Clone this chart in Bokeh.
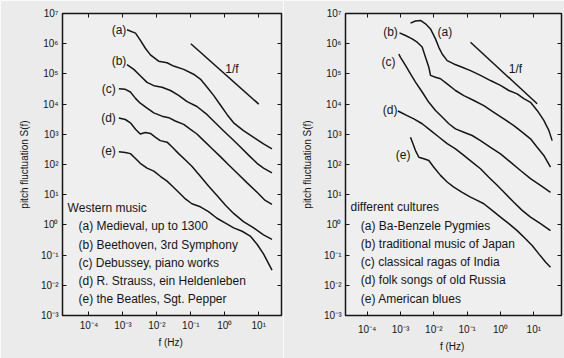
from bokeh.plotting import figure
from bokeh.layouts import row
from bokeh.models import Range1d, FixedTicker, LogAxis, CustomJSTickFormatter
from bokeh.core.properties import value
from bokeh.embed import file_html
from bokeh.resources import INLINE

# ---------------- data (log10 values) ----------------
X_TICK_EXP = [-4, -3, -2, -1, 0, 1]
Y_TICK_EXP = [-3, -2, -1, 0, 1, 2, 3, 4, 5, 6, 7]

# Left panel: Western music
W_a_logf = [-2.88, -2.63, -2.49, -2.34, -2.19, -1.95, -1.70, -1.51, -1.21, -0.92, -0.72, -0.52, -0.33, -0.13, 0.07, 0.26, 0.55, 0.85, 1.14, 1.39]
W_a_logS = [6.46, 6.35, 6.12, 5.85, 5.63, 5.42, 5.37, 5.26, 5.15, 4.99, 4.83, 4.56, 4.29, 3.97, 3.65, 3.38, 3.12, 2.90, 2.68, 2.52]
W_b_logf = [-2.88, -2.68, -2.49, -2.29, -2.09, -1.85, -1.60, -1.36, -1.11, -0.82, -0.52, -0.28, -0.04, 0.21, 0.46, 0.70, 0.95, 1.14, 1.39]
W_b_logS = [5.31, 5.15, 4.94, 4.72, 4.61, 4.56, 4.45, 4.29, 4.08, 3.92, 3.65, 3.38, 3.12, 2.85, 2.58, 2.31, 2.04, 1.88, 1.72]
W_c_logf = [-3.12, -2.93, -2.78, -2.63, -2.49, -2.29, -2.09, -1.85, -1.65, -1.46, -1.21, -1.02, -0.82, -0.62, -0.38, -0.13, 0.11, 0.36, 0.65, 0.95, 1.19, 1.39]
W_c_logS = [4.51, 4.49, 4.40, 4.19, 4.03, 3.87, 3.71, 3.60, 3.55, 3.44, 3.33, 3.17, 3.01, 2.79, 2.53, 2.26, 1.99, 1.72, 1.40, 1.08, 0.81, 0.68]
W_d_logf = [-3.12, -2.93, -2.78, -2.63, -2.49, -2.34, -2.19, -2.04, -1.90, -1.70, -1.55, -1.36, -1.16, -0.97, -0.72, -0.48, -0.23, 0.02, 0.26, 0.55, 0.85, 1.14, 1.39]
W_d_logS = [3.54, 3.49, 3.38, 3.17, 3.01, 3.06, 3.03, 2.90, 2.79, 2.74, 2.58, 2.36, 2.15, 1.94, 1.61, 1.29, 0.97, 0.65, 0.38, 0.11, -0.10, -0.33, -0.48]
W_e_logf = [-3.12, -2.93, -2.78, -2.63, -2.49, -2.29, -2.09, -1.90, -1.70, -1.55, -1.36, -1.16, -0.97, -0.72, -0.48, -0.23, 0.02, 0.26, 0.51, 0.75, 0.95, 1.14, 1.39]
W_e_logS = [2.42, 2.40, 2.36, 2.20, 2.04, 1.88, 1.78, 1.61, 1.45, 1.29, 1.08, 0.86, 0.70, 0.60, 0.44, 0.22, 0.06, -0.10, -0.21, -0.37, -0.64, -0.96, -1.50]
W_ref_logf = [-1.0, 1.0]
W_ref_logS = [6.0, 4.0]

# Right panel: different cultures
C_a_logf = [-2.70, -2.55, -2.40, -2.25, -2.10, -1.95, -1.85, -1.75, -1.60, -1.40, -1.15, -0.90, -0.60, -0.30, 0.00, 0.25, 0.50, 0.70, 0.90, 1.10, 1.30, 1.45, 1.55]
C_a_logS = [6.68, 6.75, 6.77, 6.66, 6.49, 6.16, 5.88, 5.66, 5.44, 5.33, 5.22, 5.11, 4.95, 4.78, 4.62, 4.45, 4.34, 4.18, 4.06, 3.79, 3.46, 3.13, 2.79]
C_b_logf = [-3.03, -2.85, -2.65, -2.50, -2.35, -2.25, -2.15, -2.10, -1.95, -1.80, -1.60, -1.35, -1.10, -0.80, -0.50, -0.20, 0.10, 0.40, 0.65, 0.90, 1.10, 1.30, 1.50]
C_b_logS = [6.36, 6.27, 6.16, 6.05, 5.89, 5.55, 5.22, 4.95, 4.89, 4.84, 4.67, 4.45, 4.28, 4.12, 3.95, 3.73, 3.51, 3.29, 3.07, 2.85, 2.57, 2.30, 1.91]
C_c_logf = [-3.05, -3.00, -2.85, -2.70, -2.55, -2.35, -2.15, -1.95, -1.75, -1.55, -1.35, -1.10, -0.85, -0.60, -0.30, 0.00, 0.30, 0.60, 0.90, 1.20, 1.50]
C_c_logS = [5.66, 5.55, 5.28, 5.00, 4.73, 4.40, 4.06, 3.79, 3.57, 3.35, 3.18, 3.07, 2.96, 2.79, 2.57, 2.35, 2.08, 1.80, 1.53, 1.31, 1.08]
C_d_logf = [-3.08, -3.00, -2.80, -2.60, -2.35, -2.10, -1.85, -1.60, -1.35, -1.10, -0.85, -0.60, -0.35, -0.10, 0.15, 0.40, 0.65, 0.90, 1.20, 1.50]
C_d_logS = [3.77, 3.73, 3.62, 3.51, 3.35, 3.13, 2.91, 2.69, 2.52, 2.30, 2.08, 1.86, 1.58, 1.31, 1.03, 0.75, 0.48, 0.26, 0.04, -0.19]
C_e_logf = [-2.70, -2.55, -2.45, -2.30, -2.15, -2.00, -1.80, -1.60, -1.40, -1.15, -0.90, -0.70, -0.50, -0.25, 0.00, 0.25, 0.50, 0.75, 0.95, 1.15, 1.35, 1.50]
C_e_logS = [2.90, 2.46, 2.24, 2.19, 2.13, 1.91, 1.64, 1.42, 1.25, 1.08, 0.92, 0.81, 0.70, 0.48, 0.26, 0.04, -0.19, -0.46, -0.68, -0.96, -1.23, -1.40]
C_ref_logf = [-0.9, 1.1]
C_ref_logS = [6.05, 4.01]

W_title = "Western music"
W_items = ["(a) Medieval, up to 1300", "(b) Beethoven, 3rd Symphony", "(c) Debussey, piano works",
           "(d) R. Strauss, ein Heldenleben", "(e) the Beatles, Sgt. Pepper"]
C_title = "different cultures"
C_items = ["(a) Ba-Benzele Pygmies", "(b) traditional music of Japan", "(c) classical ragas of India",
           "(d) folk songs of old Russia", "(e) American blues"]
TAGS = ["(a)", "(b)", "(c)", "(d)", "(e)"]

FONT = "Liberation Sans"
INK = "#151515"

SUP_JS = """
const sup = {"-":"\u207b","0":"\u2070","1":"\u00b9","2":"\u00b2","3":"\u00b3","4":"\u2074",
             "5":"\u2075","6":"\u2076","7":"\u2077","8":"\u2078","9":"\u2079"};
const e = Math.round(Math.log10(tick));
return "10" + String(e).split("").map(c => sup[c]).join("");
"""


def p10(seq):
    return [10.0 ** v for v in seq]


def make_panel(width, bl, br, bt, bb, xlo, xhi, xstand):
    p = figure(width=width, height=358, x_axis_type="log", y_axis_type="log",
               x_range=Range1d(10 ** xlo, 10 ** xhi), y_range=Range1d(1e-3, 1e7),
               output_backend="svg", toolbar_location=None,
               min_border_left=bl, min_border_right=br, min_border_top=bt, min_border_bottom=bb)
    p.grid.visible = False
    p.background_fill_color = "#efefef"
    p.border_fill_color = "#ebebeb"
    p.outline_line_color = INK
    p.outline_line_width = 1.5

    xt = p10(X_TICK_EXP)
    yt = p10(Y_TICK_EXP)
    for ax, ticks in ((p.xaxis[0], xt), (p.yaxis[0], yt)):
        ax.ticker = FixedTicker(ticks=ticks, minor_ticks=[])
        ax.formatter = CustomJSTickFormatter(code=SUP_JS)
        ax.major_tick_in = 4
        ax.major_tick_out = 0
        ax.major_tick_line_color = INK
        ax.major_tick_line_width = 1
        ax.minor_tick_line_color = None
        ax.axis_line_color = None
        ax.major_label_text_font = FONT
        ax.major_label_text_font_size = "10px"
        ax.major_label_text_color = INK
        ax.axis_label_text_font = FONT
        ax.axis_label_text_font_size = "10px"
        ax.axis_label_text_font_style = "normal"
        ax.axis_label_text_color = INK
    p.xaxis.major_label_standoff = xstand
    p.xaxis.axis_label_standoff = 3
    p.yaxis.major_label_standoff = 4
    p.yaxis.axis_label_standoff = 8
    p.xaxis.axis_label = "f  (Hz)"
    p.yaxis.axis_label = "pitch fluctuation S(f)"

    for loc, ticks in (("above", xt), ("right", yt)):
        ax = LogAxis(ticker=FixedTicker(ticks=ticks, minor_ticks=[]),
                     formatter=CustomJSTickFormatter(code="return '';"))
        ax.major_tick_in = 4
        ax.major_tick_out = 0
        ax.major_tick_line_color = INK
        ax.minor_tick_line_color = None
        ax.axis_line_color = None
        ax.major_label_standoff = 0
        ax.major_label_text_font_size = "1px"
        p.add_layout(ax, loc)
    return p


def add_text(p, xs, ys, texts, align="left", size="12px"):
    p.text(x=p10(xs), y=p10(ys), text=texts, text_font=value(FONT),
           text_font_size=value(size), text_color=INK,
           text_align=align, text_baseline="middle")


# ---------------- left panel ----------------
p1 = make_panel(283, 62, 2, 13, 33, -4.78, 1.67, 4)
for lf, ls in ((W_a_logf, W_a_logS), (W_b_logf, W_b_logS), (W_c_logf, W_c_logS),
               (W_d_logf, W_d_logS), (W_e_logf, W_e_logS), (W_ref_logf, W_ref_logS)):
    p1.line(p10(lf), p10(ls), line_color=INK, line_width=1.5)
add_text(p1, [-2.90, -2.90, -3.21, -3.21, -3.21], [6.46, 5.42, 4.51, 3.54, 2.45], TAGS, align="right")
add_text(p1, [0.21], [5.15], ["1/f"], align="center")
add_text(p1, [-4.63], [0.55], [W_title])
add_text(p1, [-4.31] * 5, [-0.05, -0.66, -1.26, -1.87, -2.46], W_items)

# ---------------- right panel ----------------
p2 = make_panel(281, 62, 3, 13, 43, -4.65, 1.83, 8)
for lf, ls in ((C_a_logf, C_a_logS), (C_b_logf, C_b_logS), (C_c_logf, C_c_logS),
               (C_d_logf, C_d_logS), (C_e_logf, C_e_logS), (C_ref_logf, C_ref_logS)):
    p2.line(p10(lf), p10(ls), line_color=INK, line_width=1.5)
add_text(p2, [-3.08, -3.15, -3.09, -2.70], [6.38, 5.39, 3.79, 2.33], TAGS[1:], align="right")
add_text(p2, [-1.89], [6.38], TAGS[:1])
add_text(p2, [0.45], [5.17], ["1/f"], align="center")
add_text(p2, [-4.50], [0.59], [C_title])
add_text(p2, [-4.19] * 5, [-0.02, -0.63, -1.24, -1.84, -2.45], C_items)

layout = row(p1, p2)
open("out.html", "w").write(file_html(layout, INLINE))
